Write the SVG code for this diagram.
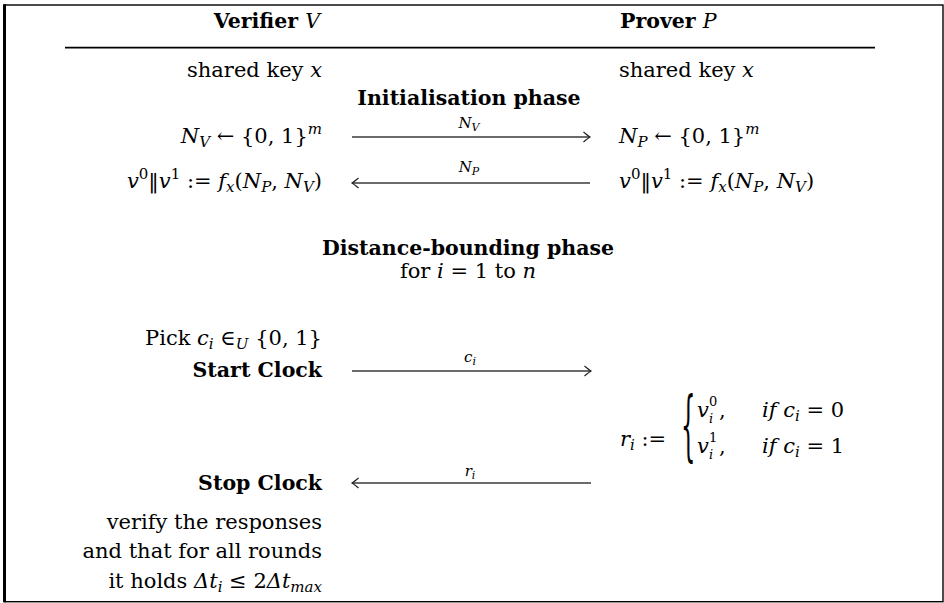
<svg xmlns="http://www.w3.org/2000/svg" width="944" height="603" viewBox="0 0 944 603">
<style>
text{font-family:"DejaVu Serif","Liberation Serif",serif;font-size:21px;fill:#000}
.b{font-weight:bold;font-size:20.5px}
.i{font-style:italic;font-weight:normal}
.s{font-size:15px}
.t{font-size:13px}
.lab{font-size:15px;font-style:italic;text-anchor:middle}
.L{text-anchor:end}
.C{text-anchor:middle}
.br{font-size:76px}
.arrow{stroke:#3a3a3a;stroke-width:1.3;fill:none;marker-end:url(#ah)}
</style>
<defs>
<marker id="ah" markerWidth="10" markerHeight="12" refX="0" refY="0" viewBox="-8 -6 10 12" orient="auto" markerUnits="userSpaceOnUse">
<path d="M-6.5,-5 Q-2,-1.2 0,0 Q-2,1.2 -6.5,5" fill="none" stroke="#222" stroke-width="1.2"/>
</marker>
</defs>
<rect x="4.5" y="5" width="938.5" height="596.7" fill="#fff" stroke="#000" stroke-width="1.4"/>
<line x1="4.5" y1="4.3" x2="4.5" y2="602.3" stroke="#000" stroke-width="3"/>
<line x1="65" y1="47.7" x2="875" y2="47.7" stroke="#000" stroke-width="1.8"/>

<g id="verifier-header"><text x="320" y="28" class="L b">Verifier <tspan class="i">V</tspan></text></g>
<g id="prover-header"><text x="620" y="28" class="b">Prover <tspan class="i">P</tspan></text></g>

<g id="v-key"><text x="322" y="77" class="L">shared key <tspan class="i">x</tspan></text></g>
<g id="p-key"><text x="619" y="77">shared key <tspan class="i">x</tspan></text></g>

<g id="init-phase"><text x="469" y="105" class="C b">Initialisation phase</text></g>

<g id="v-nonce"><text x="322" y="143" class="L"><tspan class="i">N</tspan><tspan class="s i" dy="4">V</tspan><tspan dy="-4"> ← {0, 1}</tspan><tspan class="s i" dy="-9">m</tspan></text></g>
<g id="p-nonce"><text x="619" y="143"><tspan class="i">N</tspan><tspan class="s i" dy="4">P</tspan><tspan dy="-4"> ← {0, 1}</tspan><tspan class="s i" dy="-9">m</tspan></text></g>

<g id="v-derive"><text x="322" y="188" class="L"><tspan class="i">v</tspan><tspan class="s" dy="-9">0</tspan><tspan dy="9">‖</tspan><tspan class="i">v</tspan><tspan class="s" dy="-9">1</tspan><tspan dy="9"> := </tspan><tspan class="i">f</tspan><tspan class="s i" dy="4">x</tspan><tspan dy="-4">(</tspan><tspan class="i">N</tspan><tspan class="s i" dy="4">P</tspan><tspan dy="-4">, </tspan><tspan class="i">N</tspan><tspan class="s i" dy="4">V</tspan><tspan dy="-4">)</tspan></text></g>
<g id="p-derive"><text x="619" y="188"><tspan class="i">v</tspan><tspan class="s" dy="-9">0</tspan><tspan dy="9">‖</tspan><tspan class="i">v</tspan><tspan class="s" dy="-9">1</tspan><tspan dy="9"> := </tspan><tspan class="i">f</tspan><tspan class="s i" dy="4">x</tspan><tspan dy="-4">(</tspan><tspan class="i">N</tspan><tspan class="s i" dy="4">P</tspan><tspan dy="-4">, </tspan><tspan class="i">N</tspan><tspan class="s i" dy="4">V</tspan><tspan dy="-4">)</tspan></text></g>

<g id="db-phase"><text x="468" y="255" class="C b">Distance-bounding phase</text>
<text x="468" y="278" class="C">for <tspan class="i">i</tspan> = 1 to <tspan class="i">n</tspan></text></g>

<g id="v-pick"><text x="322" y="345" class="L">Pick <tspan class="i">c</tspan><tspan class="s i" dy="4">i</tspan><tspan dy="-4"> ∈</tspan><tspan class="s i" dy="4">U</tspan><tspan dy="-4"> {0, 1}</tspan></text></g>
<g id="v-start"><text x="322" y="377" class="L b">Start Clock</text></g>

<g id="p-response"><text x="620" y="446"><tspan class="i">r</tspan><tspan class="s i" dy="4">i</tspan><tspan dy="-4"> :=</tspan></text>
<text transform="translate(681,451) scale(0.3,1)" class="br">{</text>
<text x="697" y="417"><tspan class="i">v</tspan><tspan class="t i" dy="6" x="709">i</tspan><tspan class="t" x="709" dy="-17">0</tspan><tspan x="719" dy="11">,</tspan></text>
<text x="762" y="417" class="i">if  c<tspan class="s" dy="4">i</tspan><tspan dy="-4" font-style="normal"> = 0</tspan></text>
<text x="697" y="453"><tspan class="i">v</tspan><tspan class="t i" dy="6" x="709">i</tspan><tspan class="t" x="709" dy="-17">1</tspan><tspan x="719" dy="11">,</tspan></text>
<text x="762" y="453" class="i">if  c<tspan class="s" dy="4">i</tspan><tspan dy="-4" font-style="normal"> = 1</tspan></text></g>

<g id="v-stop"><text x="322" y="490" class="L b">Stop Clock</text></g>

<g id="v-verify"><text x="322" y="529" class="L">verify the responses</text>
<text x="322" y="558" class="L">and that for all rounds</text>
<text x="322" y="588" class="L">it holds <tspan class="i">Δt</tspan><tspan class="s i" dy="4">i</tspan><tspan dy="-4"> ≤ 2</tspan><tspan class="i">Δt</tspan><tspan class="s i" dy="4">max</tspan></text></g>

<g id="connectors">
<path class="arrow" d="M352,137 H590"/>
<text x="469" y="128" class="lab">N<tspan font-size="11" dy="3">V</tspan></text>
<path class="arrow" d="M590,183 H352"/>
<text x="469" y="172" class="lab">N<tspan font-size="11" dy="3">P</tspan></text>
<path class="arrow" d="M352,371 H591"/>
<text x="470" y="362" class="lab">c<tspan font-size="11" dy="3">i</tspan></text>
<path class="arrow" d="M591,483 H352"/>
<text x="470" y="476" class="lab">r<tspan font-size="11" dy="3">i</tspan></text>
</g>
</svg>
